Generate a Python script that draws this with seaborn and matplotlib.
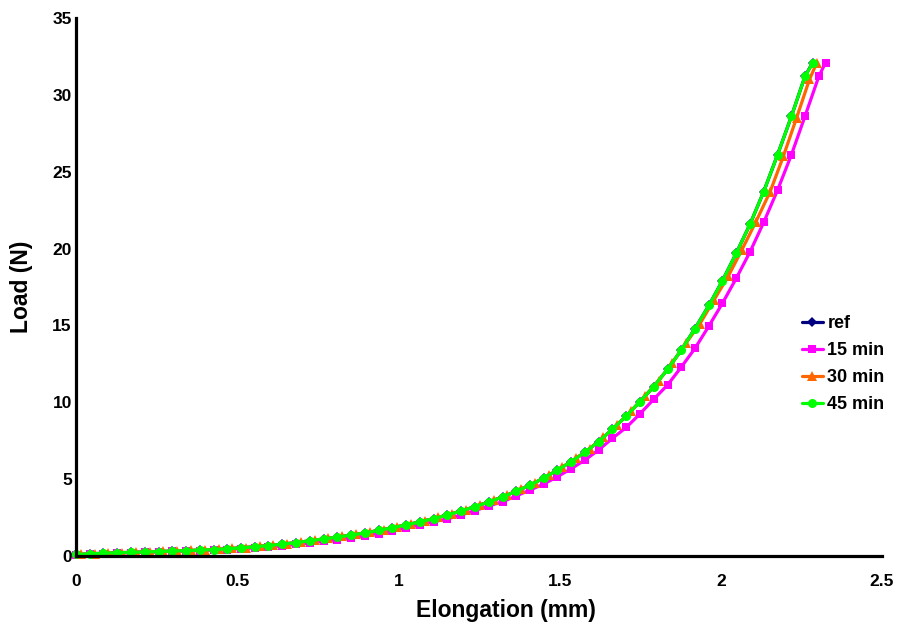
import matplotlib
matplotlib.use("Agg")
import matplotlib.pyplot as plt
import seaborn as sns
import pandas as pd

# ---------------- data ----------------
elong_45 = [0, 0.043, 0.085, 0.128, 0.171, 0.213, 0.256, 0.299, 0.341, 0.384, 0.427, 0.469, 0.512,
            0.555, 0.597, 0.640, 0.683, 0.725, 0.768, 0.811, 0.853, 0.896, 0.939, 0.981, 1.024,
            1.067, 1.109, 1.152, 1.195, 1.237, 1.280, 1.323, 1.365, 1.408, 1.451, 1.493, 1.536,
            1.579, 1.621, 1.664, 1.707, 1.749, 1.792, 1.835, 1.877, 1.920,
            1.963, 2.005, 2.048, 2.091, 2.133, 2.176, 2.219, 2.261, 2.286]
load_45 = [0.10, 0.14, 0.18, 0.21, 0.24, 0.26, 0.29, 0.32, 0.35, 0.38, 0.42, 0.47, 0.53,
           0.60, 0.68, 0.77, 0.87, 0.99, 1.11, 1.23, 1.36, 1.50, 1.66, 1.84, 2.02,
           2.22, 2.43, 2.67, 2.93, 3.21, 3.51, 3.84, 4.21, 4.61, 5.07, 5.58, 6.14,
           6.75, 7.44, 8.25, 9.11, 10.04, 11.02, 12.15, 13.38, 14.80,
           16.30, 17.90, 19.70, 21.60, 23.70, 26.10, 28.60, 31.20, 32.10]

elong_ref = [0, 0.043, 0.085, 0.128, 0.171, 0.213, 0.256, 0.299, 0.341, 0.384, 0.427, 0.469, 0.512,
             0.555, 0.597, 0.640, 0.683, 0.725, 0.768, 0.811, 0.853, 0.896, 0.939, 0.981, 1.024,
             1.067, 1.109, 1.152, 1.195, 1.237, 1.280, 1.323, 1.365, 1.408, 1.451, 1.493, 1.536,
             1.579, 1.621, 1.664, 1.707, 1.749, 1.792, 1.835, 1.877, 1.920,
             1.963, 2.005, 2.048, 2.091, 2.133, 2.176, 2.219, 2.261, 2.285]
load_ref = [0.10, 0.14, 0.18, 0.21, 0.24, 0.26, 0.29, 0.32, 0.35, 0.38, 0.42, 0.47, 0.53,
            0.60, 0.68, 0.77, 0.87, 0.99, 1.11, 1.23, 1.36, 1.50, 1.66, 1.84, 2.02,
            2.22, 2.43, 2.67, 2.93, 3.21, 3.51, 3.84, 4.21, 4.61, 5.07, 5.58, 6.14,
            6.75, 7.44, 8.25, 9.11, 10.04, 11.02, 12.15, 13.38, 14.80,
            16.30, 17.90, 19.70, 21.60, 23.70, 26.10, 28.60, 31.20, 32.10]

elong_15 = [0, 0.043, 0.085, 0.128, 0.171, 0.213, 0.256, 0.299, 0.341, 0.384, 0.427, 0.469, 0.512,
            0.555, 0.597, 0.640, 0.683, 0.725, 0.768, 0.811, 0.853, 0.896, 0.939, 0.981, 1.024,
            1.067, 1.109, 1.152, 1.195, 1.237, 1.280, 1.323, 1.365, 1.408, 1.451, 1.493, 1.536,
            1.579, 1.621, 1.664, 1.707, 1.749, 1.792, 1.835, 1.877, 1.920,
            1.963, 2.005, 2.048, 2.091, 2.133, 2.176, 2.219, 2.261, 2.304, 2.325]
load_15 = [0.09, 0.13, 0.16, 0.19, 0.22, 0.24, 0.27, 0.30, 0.32, 0.35, 0.38, 0.42, 0.47,
           0.53, 0.59, 0.66, 0.75, 0.85, 0.96, 1.07, 1.19, 1.32, 1.46, 1.63, 1.82,
           2.02, 2.23, 2.41, 2.67, 2.95, 3.25, 3.53, 3.90, 4.29, 4.68, 5.16, 5.68,
           6.25, 6.90, 7.66, 8.37, 9.24, 10.20, 11.13, 12.28, 13.51,
           14.96, 16.44, 18.07, 19.80, 21.70, 23.80, 26.10, 28.60, 31.20, 32.10]

elong_30 = [0.015, 0.058, 0.100, 0.143, 0.186, 0.228, 0.271, 0.314, 0.356, 0.399, 0.442, 0.484, 0.527,
            0.570, 0.612, 0.655, 0.698, 0.740, 0.783, 0.826, 0.868, 0.911, 0.954, 0.996, 1.039,
            1.082, 1.124, 1.167, 1.210, 1.252, 1.295, 1.338, 1.380, 1.423, 1.466, 1.508, 1.551,
            1.594, 1.636, 1.679, 1.722, 1.764, 1.807, 1.850, 1.892, 1.935,
            1.979, 2.023, 2.065, 2.109, 2.153, 2.194, 2.235, 2.275, 2.297]
load_30 = [0.11, 0.15, 0.19, 0.22, 0.25, 0.27, 0.30, 0.33, 0.36, 0.40, 0.44, 0.49, 0.55,
           0.63, 0.71, 0.80, 0.91, 1.03, 1.15, 1.28, 1.41, 1.56, 1.72, 1.90, 2.09,
           2.29, 2.51, 2.76, 3.02, 3.31, 3.62, 3.97, 4.35, 4.77, 5.24, 5.77, 6.35,
           6.99, 7.71, 8.55, 9.44, 10.38, 11.40, 12.57, 13.85, 15.10,
           16.66, 18.20, 19.90, 21.75, 23.70, 26.00, 28.50, 31.00, 32.05]

series_names = ["ref", "15 min", "30 min", "45 min"]
series_x = [elong_ref, elong_15, elong_30, elong_45]
series_y = [load_ref, load_15, load_30, load_45]
colors = ["#000080", "#FF00FF", "#FF6600", "#00FF00"]
markers = ["D", "s", "^", "o"]
msizes = [5, 6, 7, 6.5]

x_ticks = [0, 0.5, 1, 1.5, 2, 2.5]
x_ticklabels = ["0", "0.5", "1", "1.5", "2", "2.5"]
y_ticks = [0, 5, 10, 15, 20, 25, 30, 35]

# ---------------- plot ----------------
sns.set_style("white")
plt.rcParams['font.family'] = ['Liberation Sans', 'DejaVu Sans']
plt.rcParams['font.weight'] = 'bold'
plt.rcParams['text.color'] = 'black'
plt.rcParams['axes.labelcolor'] = 'black'
plt.rcParams['xtick.color'] = 'black'
plt.rcParams['ytick.color'] = 'black'

fig = plt.figure(figsize=(9.04, 6.27), dpi=100)
ax = fig.add_axes([76/904, 1 - 556/627, (882 - 76)/904, (556 - 18)/627])

for name, xs, ys, c, m, ms in zip(series_names, series_x, series_y, colors, markers, msizes):
    df = pd.DataFrame({"Elongation": xs, "Load": ys})
    sns.lineplot(data=df, x="Elongation", y="Load", ax=ax, color=c, marker=m,
                 markersize=ms, markeredgewidth=0, linewidth=2.3, label=name,
                 sort=False, estimator=None, clip_on=False)

ax.set_xlim(0, 2.5)
ax.set_ylim(0, 35)
ax.set_xticks(x_ticks)
ax.set_xticklabels(x_ticklabels)
ax.set_yticks(y_ticks)
ax.tick_params(axis='x', labelsize=12.5, length=3, width=1.5, colors='black', direction='out', pad=10)
ax.tick_params(axis='y', labelsize=12.5, length=0, pad=3, colors='black')
for lab in ax.get_xticklabels() + ax.get_yticklabels():
    lab.set_fontweight('bold')
    lab.set_color('black')

for s in ['top', 'right']:
    ax.spines[s].set_visible(False)
for s in ['left', 'bottom']:
    ax.spines[s].set_color('black')
    ax.spines[s].set_linewidth(2.3)

ax.set_xlabel("Elongation (mm)", fontsize=16.5, fontweight='bold', color='black')
ax.set_ylabel("Load (N)", fontsize=16.5, fontweight='bold', labelpad=14, color='black')
ax.xaxis.set_label_coords((506 - 76)/806, -(610 - 556)/538, transform=ax.transAxes)
ax.xaxis.label.set_verticalalignment('center')

leg = ax.legend(loc='center left', bbox_to_anchor=((802 - 76)/806, (556 - 364)/538),
                frameon=False, prop={'weight': 'bold', 'size': 13}, handlelength=1.15,
                handletextpad=0.25, labelspacing=0.55, borderaxespad=0, borderpad=0)
for t in leg.get_texts():
    t.set_color('black')

fig.savefig("out.png", dpi=100)
